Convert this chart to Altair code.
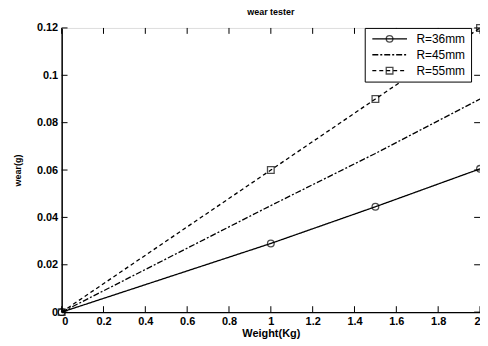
import altair as alt
import pandas as pd

weights = [0, 1, 1.5, 2]
series_names = ["R=36mm", "R=45mm", "R=55mm"]
wear_36 = [0, 0.029, 0.0445, 0.0605]
wear_45 = [0, 0.045, 0.067, 0.09]
wear_55 = [0, 0.06, 0.09, 0.12]

x_ticks = [0, 0.2, 0.4, 0.6, 0.8, 1, 1.2, 1.4, 1.6, 1.8, 2]
y_ticks = [0, 0.02, 0.04, 0.06, 0.08, 0.1, 0.12]

marker_names = [n + " " for n in series_names]

rows = []
for name, mk, vals in zip(series_names, marker_names, [wear_36, wear_45, wear_55]):
    for w, v in zip(weights, vals):
        rows.append({"weight": w, "wear": v, "series": name, "marker": mk})
df = pd.DataFrame(rows)

font = "Liberation Sans"
xs = alt.Scale(domain=[0, 2], nice=False)
ys = alt.Scale(domain=[0, 0.12], nice=False)

LX, LY = 305, 0
SYM = 45  # legend symbol area, same in both legends so rows align

dash = alt.StrokeDash(
    "series:N",
    scale=alt.Scale(domain=series_names, range=[[1, 0], [6, 2, 2, 2], [4, 3]]),
    legend=alt.Legend(
        title=None, orient="none", legendX=LX, legendY=LY,
        symbolType="M -1 0 L 9.4 0", symbolStrokeColor="black", symbolSize=SYM,
        symbolStrokeWidth=1.3, strokeColor="black", fillColor="white",
        padding=5, labelFont=font, labelFontSize=12, labelColor="black",
        rowPadding=4, labelOffset=35,
    ),
)

shape = alt.Shape(
    "marker:N",
    scale=alt.Scale(domain=marker_names,
                    range=["circle", "M -0.05 0 L 0.05 0", "square"]),
    legend=alt.Legend(
        title=None, orient="none", legendX=LX, legendY=LY,
        symbolStrokeColor="black", symbolFillColor="white", symbolSize=SYM,
        symbolStrokeWidth=1.3, strokeColor="transparent", fillColor="transparent",
        padding=5, labelFont=font, labelFontSize=12, labelExpr="''",
        rowPadding=4, labelOffset=35, symbolOffset=14,
    ),
)

xaxis = alt.Axis(values=x_ticks, title="Weight(Kg)", grid=False, tickSize=0,
                 labelExpr="datum.value + ''",
                 labelFont=font, labelFontSize=11, labelColor="black",
                 labelFontWeight="bold", titleFont=font, titleFontSize=11,
                 titleFontWeight="bold", titleColor="black", domainColor="black",
                 domainWidth=1.5, labelPadding=3, titlePadding=2)
yaxis = alt.Axis(values=y_ticks, title="wear(g)", grid=False, tickSize=0,
                 labelExpr="datum.value + ''",
                 labelFont=font, labelFontSize=11, labelColor="black",
                 labelFontWeight="bold", titleFont=font, titleFontSize=9,
                 titleFontWeight="bold", titleColor="black", domainColor="black",
                 domainWidth=1.5, labelPadding=4, titlePadding=14,
                 labelFlush=False)

base = alt.Chart(df)

lines = base.mark_line(color="black", strokeWidth=1.3, clip=True).encode(
    x=alt.X("weight:Q", scale=xs, axis=xaxis),
    y=alt.Y("wear:Q", scale=ys, axis=yaxis),
    strokeDash=dash,
    detail="series:N",
)

pts = base.mark_point(color="black", filled=False, size=45, strokeWidth=1.3).encode(
    x=alt.X("weight:Q", scale=xs),
    y=alt.Y("wear:Q", scale=ys),
    shape=shape,
)

# inward ticks
tdf_x = pd.DataFrame({"t": x_ticks})
tdf_y = pd.DataFrame({"t": y_ticks})
tick_len_y = 0.0025
tick_len_x = 0.028
tick_bottom = alt.Chart(tdf_x).mark_rule(color="black", strokeWidth=1).encode(
    x=alt.X("t:Q", scale=xs), y=alt.datum(0), y2=alt.datum(tick_len_y))
tick_top = alt.Chart(tdf_x).mark_rule(color="black", strokeWidth=1).encode(
    x=alt.X("t:Q", scale=xs), y=alt.datum(0.12), y2=alt.datum(0.12 - tick_len_y))
tick_left = alt.Chart(tdf_y).mark_rule(color="black", strokeWidth=1).encode(
    y=alt.Y("t:Q", scale=ys), x=alt.datum(0), x2=alt.datum(tick_len_x))
tick_right = alt.Chart(tdf_y).mark_rule(color="black", strokeWidth=1).encode(
    y=alt.Y("t:Q", scale=ys), x=alt.datum(2), x2=alt.datum(2 - tick_len_x))

chart = alt.layer(lines, pts, tick_bottom, tick_top, tick_left, tick_right).properties(
    width=421, height=286,
    title=alt.Title("wear tester", font=font, fontSize=9, fontWeight="bold", color="black", offset=5),
    autosize=alt.AutoSizeParams(type="none"),
    padding={"left": 54, "top": 19, "right": 0, "bottom": 30},
).configure_view(stroke="black", strokeWidth=1.5).configure(background="white")

chart.save("out.html", embed_options={"renderer": "svg", "actions": False})
